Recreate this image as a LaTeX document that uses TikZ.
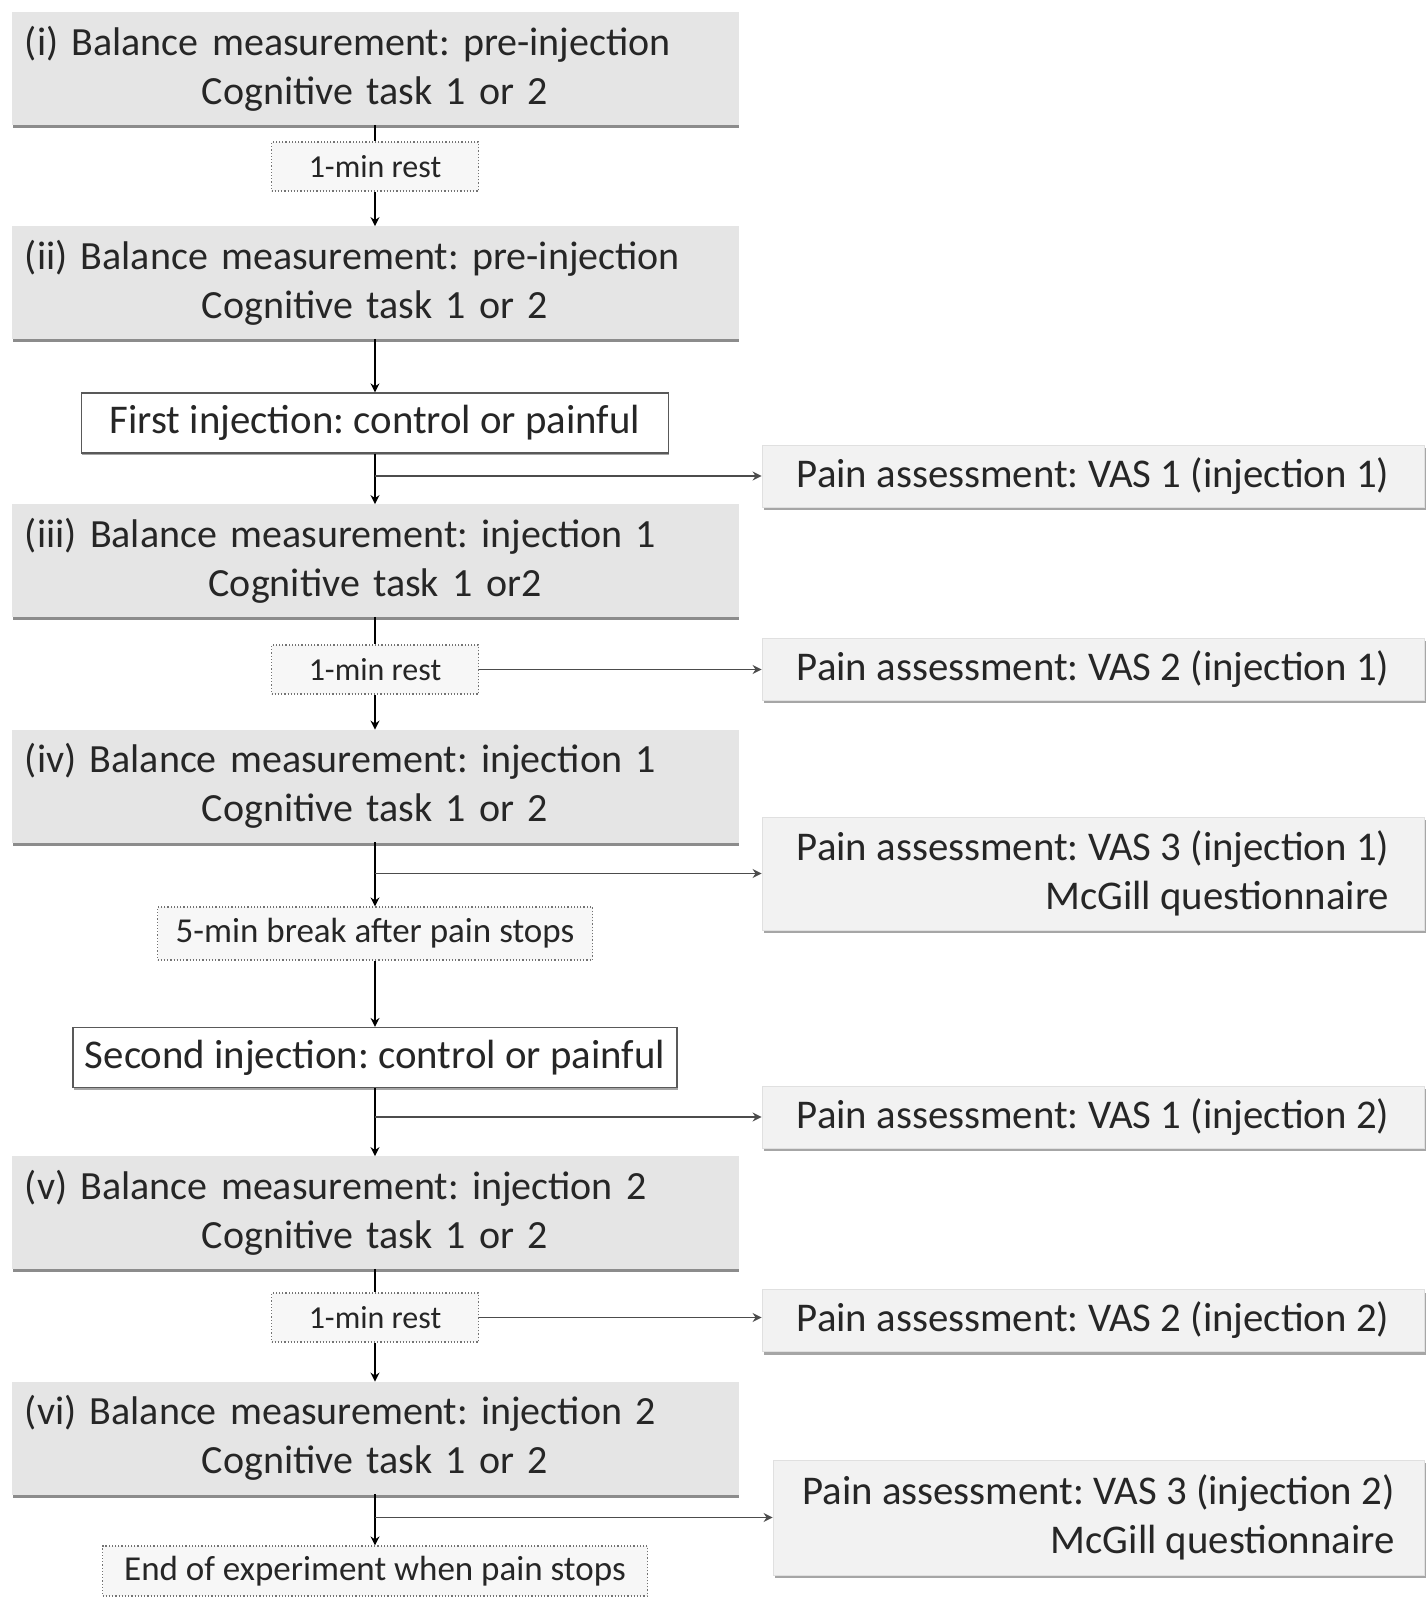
\documentclass[tikz,border=0pt]{standalone}
\usepackage{fontspec}
\setmainfont{Carlito}
\frenchspacing
\usetikzlibrary{arrows.meta,shadows}

\begin{document}
\begin{tikzpicture}[
  x=0.5pt,y=0.5pt,
  >={Stealth[length=4.5pt,width=4.5pt]},
  every node/.style={text=black!85},
  main/.style={rectangle,fill=black!10,draw=black!10,
               minimum width=363pt,minimum height=56pt,
               text width=350pt,inner xsep=6.5pt,align=left,
               font=\fontsize{20}{24.5}\selectfont,
               drop shadow={shadow xshift=0.6pt,shadow yshift=-1.8pt,fill=black!45,opacity=1}},
  inj/.style={rectangle,fill=white,draw=black!65,line width=0.6pt,
              minimum height=30pt,inner sep=0pt,
              font=\fontsize{20.4}{24.5}\selectfont,
              drop shadow={shadow xshift=0.4pt,shadow yshift=-1.2pt,fill=black!35,opacity=1}},
  pain/.style={rectangle,fill=black!5,draw=black!12,
               minimum width=331pt,minimum height=31pt,align=right,
               font=\fontsize{20.4}{24.5}\selectfont,
               drop shadow={shadow xshift=0.8pt,shadow yshift=-1.5pt,fill=black!35,opacity=1}},
  rest/.style={rectangle,fill=black!3,draw=black!55,densely dotted,line width=0.6pt,
               minimum width=103.5pt,minimum height=24.5pt,inner sep=0pt,
               font=\fontsize{16}{19}\selectfont},
  restwide/.style={rest,font=\fontsize{17.5}{21}\selectfont},
  arr/.style={->,line width=1pt,black},
  lnk/.style={line width=1pt,black},
  branch/.style={->,line width=0.9pt,black!70}
]
\useasboundingbox (0,0) rectangle (1426,-1598);

% ---- main column ----
\node[main] (i) at (375,-68.5) {(i) Balance measurement: pre-injection\\\centerline{Cognitive task 1 or 2}};
\node[rest] (rest1) at (375,-166.5) {1-min rest};
\node[main] (ii) at (375,-282.5) {(ii) Balance measurement: pre-injection\\\centerline{Cognitive task 1 or 2}};
\node[inj,minimum width=293.5pt] (inj1) at (375,-423) {First injection: control or painful};
\node[main] (iii) at (375,-560.5) {(iii) Balance measurement: injection 1\\\centerline{Cognitive task 1 or2}};
\node[rest] (rest2) at (375,-669.5) {1-min rest};
\node[main] (iv) at (375,-786) {(iv) Balance measurement: injection 1\\\centerline{Cognitive task 1 or 2}};
\node[restwide,minimum width=217.5pt,minimum height=26.5pt] (brk) at (375,-933.5) {5-min break after pain stops};
\node[inj,minimum width=302pt] (inj2) at (375,-1057.5) {Second injection: control or painful};
\node[main] (v) at (375,-1212.5) {(v) Balance measurement: injection 2\\\centerline{Cognitive task 1 or 2}};
\node[rest] (rest3) at (375,-1317.5) {1-min rest};
\node[main] (vi) at (375,-1438) {(vi) Balance measurement: injection 2\\\centerline{Cognitive task 1 or 2}};
\node[restwide,minimum width=272.5pt,minimum height=25pt] (end) at (375,-1571) {End of experiment when pain stops};

% ---- pain assessments ----
\node[pain] (vas11) at (1093,-476) {Pain assessment: VAS 1 (injection 1)};
\node[pain] (vas21) at (1093,-669) {Pain assessment: VAS 2 (injection 1)};
\node[pain,minimum height=56.5pt] (vas31) at (1093,-873.5) {Pain assessment: VAS 3 (injection 1)\\McGill questionnaire};
\node[pain] (vas12) at (1093,-1117) {Pain assessment: VAS 1 (injection 2)};
\node[pain] (vas22) at (1093,-1320.5) {Pain assessment: VAS 2 (injection 2)};
\node[pain,minimum width=325.5pt,minimum height=57.5pt] (vas32) at (1098.5,-1517.5) {Pain assessment: VAS 3 (injection 2)\\McGill questionnaire};

% ---- arrows ----
\draw[lnk] (i) -- (rest1);
\draw[arr] (rest1) -- (ii);
\draw[arr] (ii) -- (inj1);
\draw[arr] (inj1) -- (iii);
\draw[branch] (inj1.south |- vas11.west) -- (vas11.west);
\draw[lnk] (iii) -- (rest2);
\draw[arr] (rest2) -- (iv);
\draw[branch] (rest2.east) -- (rest2.east -| vas21.west);
\draw[arr] (iv) -- (brk);
\draw[branch] (iv.south |- vas31.west) -- (vas31.west);
\draw[arr] (brk) -- (inj2);
\draw[arr] (inj2) -- (v);
\draw[branch] (inj2.south |- vas12.west) -- (vas12.west);
\draw[lnk] (v) -- (rest3);
\draw[arr] (rest3) -- (vi);
\draw[branch] (rest3.east) -- (rest3.east -| vas22.west);
\draw[arr] (vi) -- (end);
\draw[branch] (vi.south |- vas32.west) -- (vas32.west);

\end{tikzpicture}
\end{document}
